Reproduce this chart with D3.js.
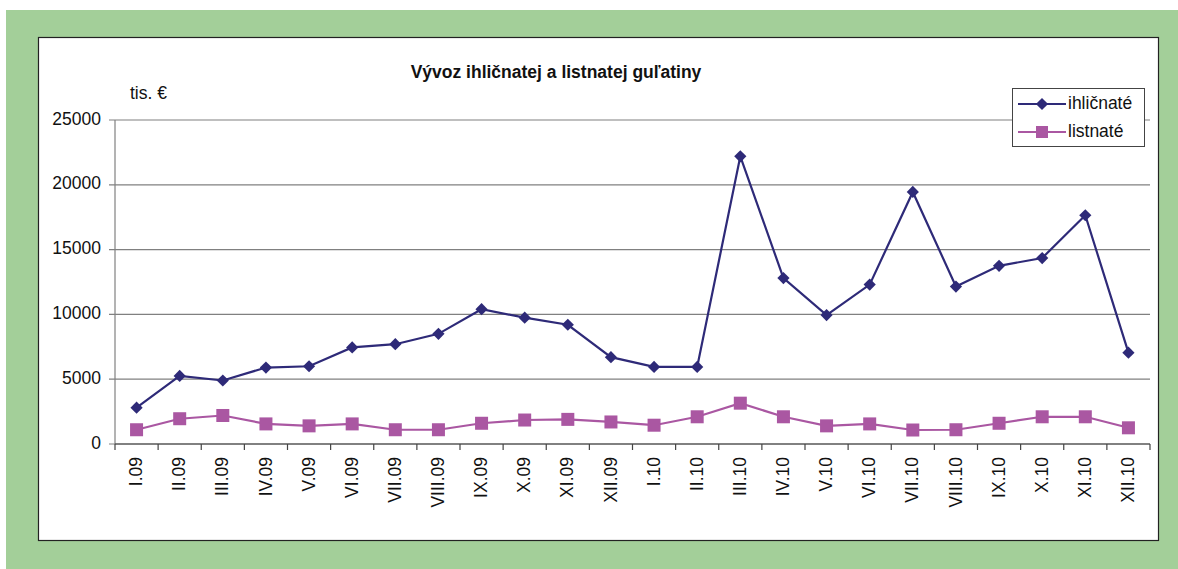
<html>
<head>
    <script src="https://d3js.org/d3.v7.min.js"></script>
</head>
<body style="margin:0">
    <svg id="chart" width="1178" height="569"></svg>
    <script>
        const months = ["I.09", "II.09", "III.09", "IV.09", "V.09", "VI.09", "VII.09", "VIII.09", "IX.09", "X.09", "XI.09", "XII.09",
            "I.10", "II.10", "III.10", "IV.10", "V.10", "VI.10", "VII.10", "VIII.10", "IX.10", "X.10", "XI.10", "XII.10"];
        const ihlicnate = [2800, 5250, 4900, 5900, 6000, 7450, 7700, 8500, 10400, 9750, 9200, 6700,
            5950, 5950, 22200, 12800, 9950, 12300, 19450, 12150, 13750, 14350, 17650, 7050];
        const listnate = [1100, 1950, 2200, 1550, 1400, 1550, 1100, 1100, 1600, 1850, 1900, 1700,
            1450, 2100, 3150, 2100, 1400, 1550, 1080, 1100, 1600, 2100, 2100, 1250];
        const yTicks = [0, 5000, 10000, 15000, 20000, 25000];

        const navy = "#2e2a78";
        const pink = "#aa57a2";
        const font = "Liberation Sans, Arial, sans-serif";
        const fs = "17.5px";

        let svg = d3.select("#chart");

        // green frame and white panel
        svg.append("rect").attr("x", 6).attr("y", 10).attr("width", 1172).attr("height", 559).attr("fill", "#a3cf99");
        svg.append("rect").attr("x", 38.5).attr("y", 37.5).attr("width", 1120).attr("height", 503)
            .attr("fill", "white").attr("stroke", "#222").attr("stroke-width", 1.2);

        let x = d3.scaleBand().domain(months).range([115, 1150]);
        let y = d3.scaleLinear().domain([0, 25000]).range([444, 120]);

        // gridlines
        yTicks.forEach(t => {
            svg.append("line")
                .attr("x1", 109).attr("x2", 1150)
                .attr("y1", y(t)).attr("y2", y(t))
                .attr("stroke", "#808080").attr("stroke-width", 1.2);
            svg.append("text")
                .attr("x", 101).attr("y", y(t))
                .attr("text-anchor", "end").attr("dominant-baseline", "middle")
                .attr("font-family", font).attr("font-size", fs).attr("fill", "#111")
                .text(t);
        });

        // y axis line
        svg.append("line").attr("x1", 115).attr("x2", 115).attr("y1", 120).attr("y2", 444)
            .attr("stroke", "#808080").attr("stroke-width", 1.2);

        // x ticks
        months.concat(["end"]).forEach((m, i) => {
            let px = 115 + i * x.bandwidth();
            svg.append("line").attr("x1", px).attr("x2", px).attr("y1", 444).attr("y2", 450)
                .attr("stroke", "#444").attr("stroke-width", 1.2);
        });
        svg.append("line").attr("x1", 115).attr("x2", 1150).attr("y1", 444).attr("y2", 444)
            .attr("stroke", "#444").attr("stroke-width", 1.2);

        months.forEach(m => {
            let cx = x(m) + x.bandwidth() / 2;
            svg.append("text")
                .attr("transform", `translate(${cx + 1},457) rotate(-90)`)
                .attr("text-anchor", "end").attr("dominant-baseline", "middle")
                .attr("font-family", font).attr("font-size", fs).attr("fill", "#111")
                .text(m);
        });

        // title and unit
        svg.append("text").attr("x", 556).attr("y", 78).attr("text-anchor", "middle")
            .attr("font-family", font).attr("font-size", fs).attr("font-weight", "bold").attr("fill", "#111")
            .text("Vývoz ihličnatej a listnatej guľatiny");
        svg.append("text").attr("x", 130).attr("y", 99)
            .attr("font-family", font).attr("font-size", fs).attr("fill", "#111")
            .text("tis. €");

        const line = d3.line().x((d, i) => x(months[i]) + x.bandwidth() / 2).y(d => y(d));
        const diamond = d3.symbol().type(d3.symbolDiamond2).size(95);

        // listnate
        svg.append("path").datum(listnate).attr("d", line)
            .attr("fill", "none").attr("stroke", pink).attr("stroke-width", 2.2);
        listnate.forEach((v, i) => {
            let cx = x(months[i]) + x.bandwidth() / 2;
            svg.append("rect").attr("x", cx - 6.5).attr("y", y(v) - 6.5)
                .attr("width", 13).attr("height", 13).attr("fill", pink);
        });

        // ihlicnate
        svg.append("path").datum(ihlicnate).attr("d", line)
            .attr("fill", "none").attr("stroke", navy).attr("stroke-width", 2.2);
        ihlicnate.forEach((v, i) => {
            let cx = x(months[i]) + x.bandwidth() / 2;
            svg.append("path").attr("d", diamond)
                .attr("transform", `translate(${cx},${y(v)})`).attr("fill", navy);
        });

        // legend
        svg.append("rect").attr("x", 1012.5).attr("y", 88.5).attr("width", 132).attr("height", 58)
            .attr("fill", "white").attr("stroke", "#444").attr("stroke-width", 1);
        const legend = [{ name: "ihličnaté", color: navy, y: 104 }, { name: "listnaté", color: pink, y: 132 }];
        legend.forEach((d, i) => {
            svg.append("line").attr("x1", 1018).attr("x2", 1066).attr("y1", d.y).attr("y2", d.y)
                .attr("stroke", d.color).attr("stroke-width", 2.2);
            if (i == 0) {
                svg.append("path").attr("d", diamond).attr("transform", `translate(1042,${d.y})`).attr("fill", d.color);
            } else {
                svg.append("rect").attr("x", 1036).attr("y", d.y - 6).attr("width", 12).attr("height", 12).attr("fill", d.color);
            }
            svg.append("text").attr("x", 1068).attr("y", d.y).attr("dominant-baseline", "middle")
                .attr("font-family", font).attr("font-size", fs).attr("fill", "#111")
                .text(d.name);
        });
    </script>
</body>
</html>
